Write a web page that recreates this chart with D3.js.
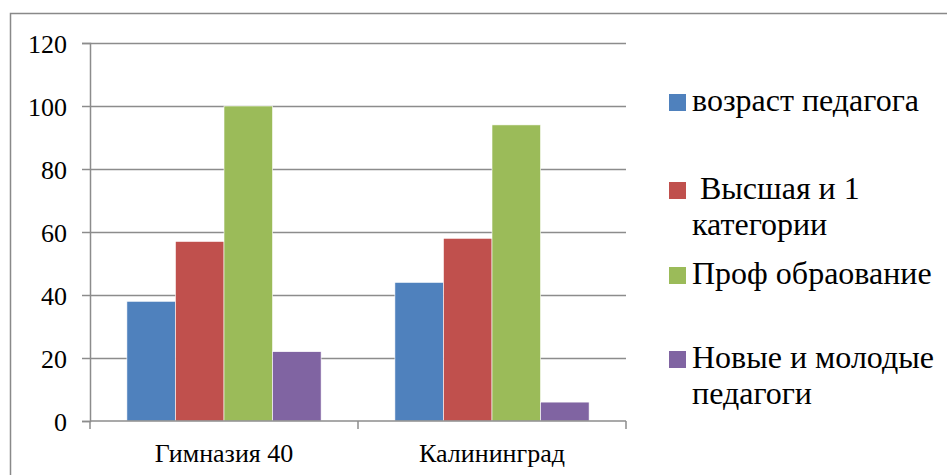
<!DOCTYPE html>
<html>
<head>
<meta charset="utf-8">
<script src="https://cdnjs.cloudflare.com/ajax/libs/d3/7.8.5/d3.min.js"></script>
</head>
<body style="margin:0">
<script>
// Chart data
const categories = ["Гимназия 40", "Калининград"];
const seriesNames = ["возраст педагога", "Высшая и 1 категории", "Проф обраование", "Новые и молодые педагоги"];
const seriesColors = ["#4f81bd", "#c0504d", "#9bbb59", "#8064a2"];
const vozrast = [38, 44];
const vysshaya = [57, 58];
const prof = [100, 94];
const novye = [22, 6];
const yTicks = [0, 20, 40, 60, 80, 100, 120];
// legend lines (wrapped as displayed)
const legendLines = [["возраст педагога"], ["\u00a0Высшая и 1", "категории"], ["Проф обраование"], ["Новые и молодые", "педагоги"]];

const seriesValues = [vozrast, vysshaya, prof, novye];
const FONT = "\"Liberation Serif\"";

const svg = d3.select("body").append("svg")
  .attr("class", "bars")
  .attr("width", 947).attr("height", 475);

// outer frame
svg.append("path")
  .attr("d", "M10.5,475 L10.5,13.5 L947,13.5")
  .attr("fill", "none")
  .attr("stroke", "#898989")
  .attr("stroke-width", 1.5);

const plot = { left: 90, right: 626, top: 43, bottom: 421 };

const x0 = d3.scaleBand().domain(categories).range([plot.left, plot.right]).paddingInner(0).paddingOuter(0);
const x1 = d3.scaleBand().domain(d3.range(seriesNames.length)).range([0, x0.bandwidth()]).paddingOuter(0.76).paddingInner(0);
const y = d3.scaleLinear().domain([0, 120]).range([plot.bottom, plot.top]);

// gridlines
svg.append("g").selectAll("line").data(yTicks.filter(d => d > 0)).join("line")
  .attr("x1", plot.left).attr("x2", plot.right)
  .attr("y1", d => Math.round(y(d)) + 0.5).attr("y2", d => Math.round(y(d)) + 0.5)
  .attr("stroke", "#8c8c8c").attr("stroke-width", 1.5);

// bars
const groups = svg.append("g").selectAll("g").data(categories).join("g")
  .attr("transform", d => `translate(${x0(d)},0)`);
groups.selectAll("rect")
  .data((c, ci) => seriesValues.map((vals, si) => ({ si, v: vals[ci] })))
  .join("rect")
  .attr("x", d => x1(d.si))
  .attr("width", x1.bandwidth())
  .attr("y", d => y(d.v))
  .attr("height", d => y(0) - y(d.v))
  .attr("fill", d => seriesColors[d.si])
  .attr("stroke", "#fff").attr("stroke-width", 0.6);

// y axis
const yAxis = d3.axisLeft(y).tickValues(yTicks).tickSize(8).tickPadding(15);
const gy = svg.append("g").attr("transform", `translate(${plot.left},0)`).call(yAxis)
  .attr("font-family", null).attr("font-size", null);
gy.select(".domain").attr("stroke", "#8c8c8c").attr("stroke-width", 1.5);
gy.selectAll(".tick line").attr("stroke", "#8c8c8c").attr("stroke-width", 1.5);
gy.selectAll(".tick text")
  .attr("font-size", 26).style("font-family", FONT)
  .attr("fill", "#000").attr("dy", "0.35em");

// x axis
const xAxis = d3.axisBottom(x0).tickSize(0);
const gx = svg.append("g").attr("transform", `translate(0,${plot.bottom})`).call(xAxis)
  .attr("font-family", null).attr("font-size", null);
gx.select(".domain").attr("stroke", "#8c8c8c").attr("stroke-width", 1.5).attr("d", `M${plot.left},0H${plot.right}`);
gx.selectAll(".tick text")
  .attr("font-size", 26).style("font-family", FONT)
  .attr("fill", "#000").attr("y", 41).attr("dy", 0);
// category boundary ticks
svg.append("g").selectAll("line").data([plot.left, x0(categories[1]), plot.right]).join("line")
  .attr("x1", d => d).attr("x2", d => d)
  .attr("y1", plot.bottom).attr("y2", plot.bottom + 8)
  .attr("stroke", "#8c8c8c").attr("stroke-width", 1.5);

// legend: baseline of the first line of each entry
const legendY = [111, 199, 284, 368];
const legend = svg.append("g");
legendLines.forEach((lines, i) => {
  legend.append("rect")
    .attr("x", 669).attr("y", legendY[i] - 17)
    .attr("width", 17).attr("height", 17)
    .attr("fill", seriesColors[i]);
  const t = legend.append("text")
    .attr("x", 692).attr("y", legendY[i])
    .attr("font-size", 32).style("font-family", FONT)
    .attr("fill", "#000");
  lines.forEach((ln, k) => {
    t.append("tspan").attr("x", 692).attr("dy", k === 0 ? 0 : 36).text(ln);
  });
});
</script>
</body>
</html>
